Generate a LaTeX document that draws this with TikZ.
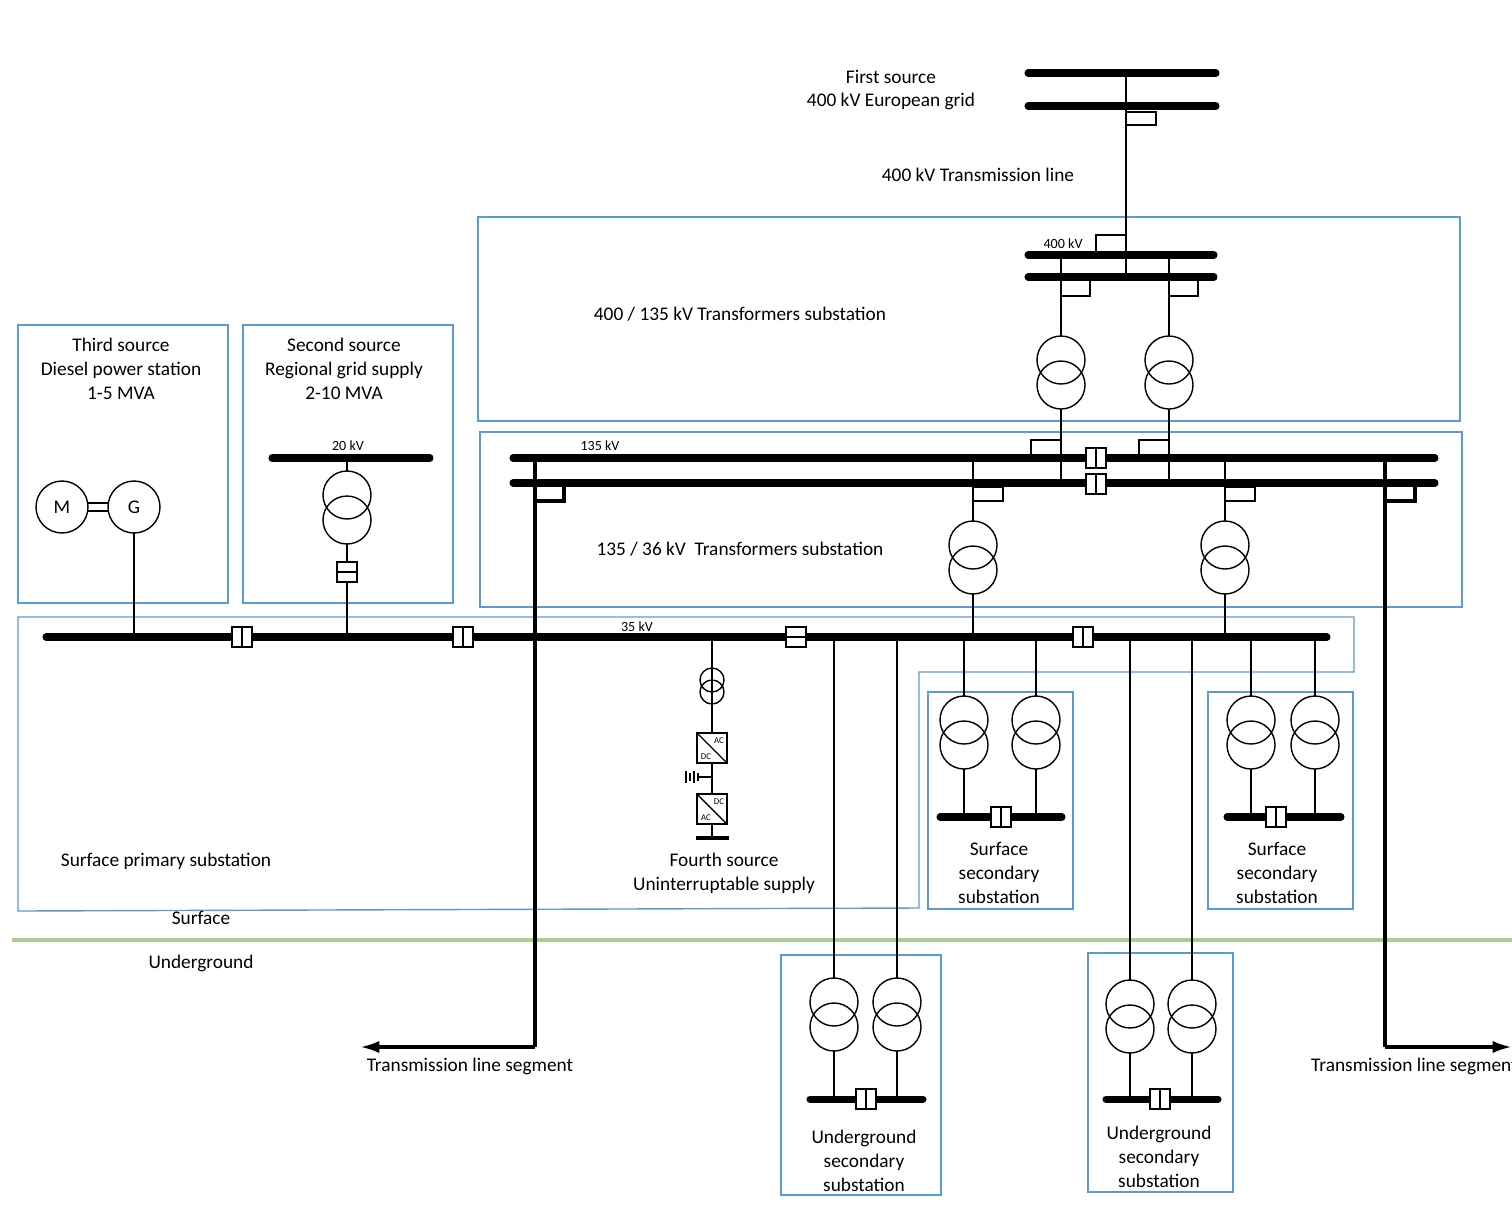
\documentclass[tikz,border=0pt]{standalone}
\usepackage{fontspec}
\setmainfont{Carlito}
\usetikzlibrary{arrows.meta}
\definecolor{boxblue}{RGB}{91,155,213}
\definecolor{earth}{RGB}{169,208,142}
\tikzset{
  wire/.style={line width=0.8pt},
  bus/.style={line width=4pt,line cap=round},
  feed/.style={line width=2pt},
  area/.style={draw=boxblue,line width=0.8pt},
  lbl/.style={font=\fontsize{11}{13.6}\selectfont,align=center},
  small/.style={font=\fontsize{8}{9}\selectfont},
  pics/xfmr/.style={code={
    \draw[wire] (0,0) circle (24);
    \draw[wire] (0,25) circle (24);}},
  pics/brk/.style={code={
    \draw[wire,fill=white] (-10,-10) rectangle (10,10);
    \draw[wire] (0,-10) -- (0,10);}},
  pics/brkh/.style={code={
    \draw[wire,fill=white] (-10,-10) rectangle (10,10);
    \draw[wire] (-10,0) -- (10,0);}},
  pics/conv/.style={code={
    \draw[wire,fill=white] (-15,-15) rectangle (15,15);
    \draw[wire] (-15,-15) -- (15,15);}}
}
\begin{document}
\begin{tikzpicture}[x=0.02cm,y=-0.02cm]
\useasboundingbox (0,0) rectangle (1512,1211);

% areas
\draw[area] (478,217) rectangle (1460,421);
\draw[area] (480,432) rectangle (1462,607);
\draw[area] (18,325) rectangle (228,603);
\draw[area] (243,325) rectangle (453,603);
\draw[area] (18,617) -- (1354,617) -- (1354,672) -- (919,672) -- (919,908) -- (18,911) -- cycle;
\draw[area] (928,692) rectangle (1073,909);
\draw[area] (1208,692) rectangle (1353,909);
\draw[area] (781,955) rectangle (941,1195);
\draw[area] (1088,953) rectangle (1233,1192);
\draw[earth,line width=2.5pt] (12,940) -- (1512,940);

% first source
\draw[bus] (1028,73) -- (1216,73);
\draw[bus] (1028,106) -- (1216,106);
\draw[wire] (1126,73) -- (1126,277);
\draw[wire] (1126,112) -- (1156,112) -- (1156,125) -- (1126,125);
\draw[wire] (1126,235) -- (1096,235) -- (1096,255);

% 400 kV
\draw[bus] (1028,255) -- (1214,255);
\draw[bus] (1028,277) -- (1214,277);
\foreach \x in {1061,1169} {
  \draw[wire] (\x,255) -- (\x,336);
  \draw[wire] (\x,277) -- (\x+29,277) -- (\x+29,296) -- (\x,296);
  \pic at (\x,360) {xfmr};
  \draw[wire] (\x,409) -- (\x,483);
  \draw[wire] (\x,440) -- (\x-30,440) -- (\x-30,458);
}

% 135 kV
\draw[bus] (513,458) -- (1435,458);
\draw[bus] (513,483) -- (1435,483);
\pic at (1096,458) {brk};
\pic at (1096,484) {brk};
\foreach \x in {973,1225} {
  \draw[wire] (\x,458) -- (\x,521);
  \draw[wire] (\x,487) -- (\x+30,487) -- (\x+30,501) -- (\x,501);
  \pic at (\x,545) {xfmr};
  \draw[wire] (\x,594) -- (\x,637);
}
\draw[feed] (535,458) -- (535,1047);
\draw[feed] (535,501) -- (564,501) -- (564,483);
\draw[feed,-{Latex[length=11pt,width=7pt]}] (535,1047) -- (360,1047);
\draw[feed] (1385,458) -- (1385,1047);
\draw[feed] (1385,501) -- (1415,501) -- (1415,483);
\draw[feed,-{Latex[length=11pt,width=7pt]}] (1385,1047) -- (1512,1047);

% third source
\draw[wire] (62,507) circle (26) node[lbl] {M};
\draw[wire] (134,507) circle (26) node[lbl] {G};
\draw[wire] (88,503) -- (108,503) (88,511) -- (108,511);
\draw[wire] (134,533) -- (134,637);

% second source
\draw[bus] (272,458) -- (430,458);
\draw[wire] (347,458) -- (347,471);
\pic at (347,495) {xfmr};
\draw[wire] (347,544) -- (347,637);
\pic at (347,572) {brkh};

% 35 kV
\draw[bus] (46,637) -- (1327,637);
\pic at (242,637) {brk};
\pic at (463,637) {brk};
\pic at (796,637) {brkh};
\pic at (1083,637) {brk};

% fourth source
\draw[wire] (712,637) -- (712,838);
\draw[wire] (712,680) circle (12);
\draw[wire] (712,692) circle (12);
\pic at (712,748) {conv};
\node[font=\fontsize{5}{6}\selectfont] at (719,741) {AC};
\node[font=\fontsize{5}{6}\selectfont] at (706,757) {DC};
\draw[wire] (712,777) -- (698,777);
\draw[wire] (686,771) -- (686,783) (690,773) -- (690,781) (694,771) -- (694,783) (698,773) -- (698,781);
\pic at (712,809) {conv};
\node[font=\fontsize{5}{6}\selectfont] at (719,802) {DC};
\node[font=\fontsize{5}{6}\selectfont] at (706,818) {AC};
\draw[line width=2.5pt] (696,838) -- (729,838);

% secondary substations
\foreach \a/\b/\y/\t/\k in {964/1036/720/817/1001, 1251/1315/720/817/1276, 834/897/1002/1099/866, 1130/1192/1004/1099/1160} {
  \draw[wire] (\a,637) -- (\a,\y-24);
  \draw[wire] (\b,637) -- (\b,\y-24);
  \pic at (\a,\y) {xfmr};
  \pic at (\b,\y) {xfmr};
  \draw[wire] (\a,\y+49) -- (\a,\t);
  \draw[wire] (\b,\y+49) -- (\b,\t);
  \draw[bus] (\a-24,\t) -- (\b+26,\t);
  \pic at (\k,\t) {brk};
}

% texts
\node[lbl] at (891,90) {First source\\400 kV European grid};
\node[lbl] at (978,175) {400 kV Transmission line};
\node[small] at (1063,244) {400 kV};
\node[lbl] at (740,314) {400 / 135 kV Transformers substation};
\node[small] at (600,446) {135 kV};
\node[lbl] at (740,549) {135 / 36 kV\ \ Transformers substation};
\node[lbl] at (121,369) {Third source\\Diesel power station\\1-5 MVA};
\node[lbl] at (344,369) {Second source\\Regional grid supply\\2-10 MVA};
\node[small] at (348,446) {20 kV};
\node[small] at (637,627) {35 kV};
\node[lbl] at (166,861) {Surface primary substation};
\node[lbl] at (724,873) {Fourth source\\Uninterruptable supply};
\node[lbl] at (999,873) {Surface\\secondary\\substation};
\node[lbl] at (1277,873) {Surface\\secondary\\substation};
\node[lbl] at (201,918) {Surface};
\node[lbl] at (201,963) {Underground};
\node[lbl] at (470,1066) {Transmission line segment};
\node[lbl,anchor=west] at (1305,1066) {Transmission line segment};
\node[lbl] at (864,1161) {Underground\\secondary\\substation};
\node[lbl] at (1159,1157) {Underground\\secondary\\substation};
\end{tikzpicture}
\end{document}
